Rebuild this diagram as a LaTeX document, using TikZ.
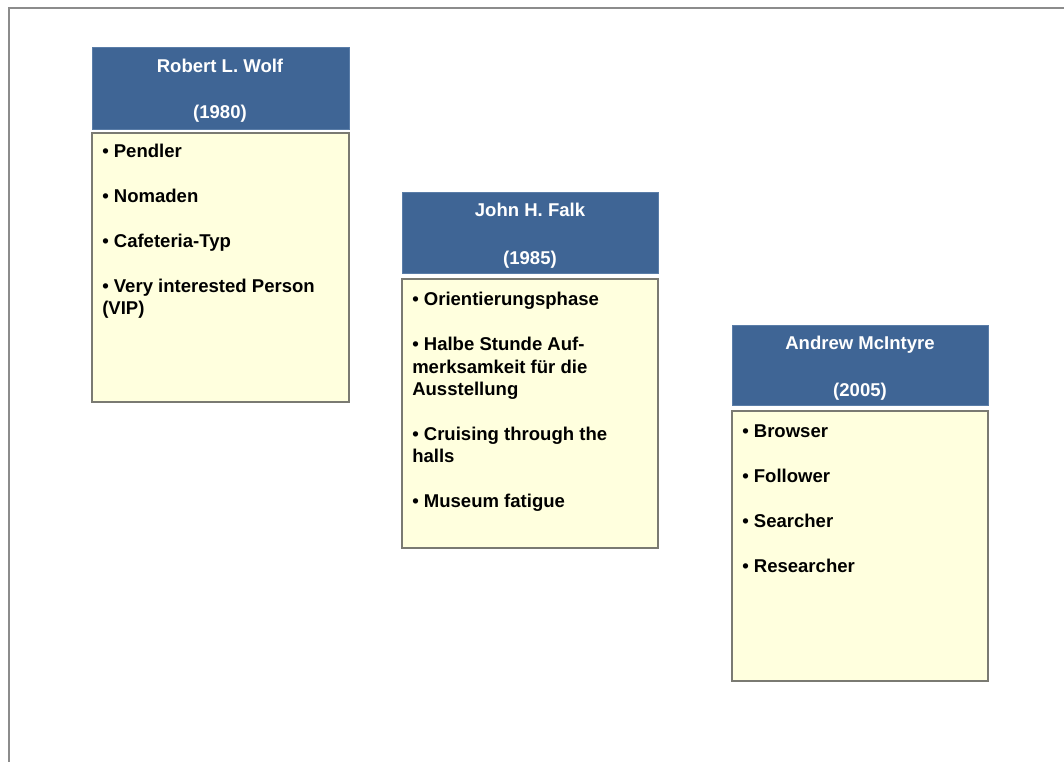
\documentclass[tikz,border=0pt]{standalone}
\usepackage{fontspec}
\setmainfont{Liberation Sans}
\definecolor{headblue}{HTML}{3F6595}
\definecolor{headedge}{HTML}{5A7DA8}
\definecolor{notepaper}{HTML}{FFFFDE}
\definecolor{noteedge}{HTML}{7A7A72}
\definecolor{frameline}{HTML}{8C8C8C}
\begin{document}
\begin{tikzpicture}[x=0.75pt,y=-0.75pt,
  head/.style={fill=headblue, draw=headedge, line width=0.6pt},
  body/.style={fill=notepaper, draw=noteedge, line width=0.9pt},
  htext/.style={text=white, font=\fontsize{13.9}{16}\selectfont\bfseries, anchor=base, inner sep=0pt},
  btext/.style={text=black, font=\fontsize{13.9}{16}\selectfont\bfseries, anchor=base west, inner sep=0pt}]
  % page size
  \useasboundingbox (0,0) rectangle (1064,762);
  % sheet frame (top and left edges)
  \draw[frameline, line width=1.6pt] (9,762) -- (9,8) -- (1064,8);

  % --- Robert L. Wolf ---
  \path[head] (92,47) rectangle (349,129);
  \path[body] (92,133) rectangle (349,402);
  \node[htext] (wolfname) at (220,73) {Robert L. Wolf};
  \node[htext] (wolfyear) at (220,119) {(1980)};
  \node[btext] (wolf1) at (102,158) {• Pendler};
  \node[btext] (wolf2) at (102,203) {• Nomaden};
  \node[btext] (wolf3) at (102,248) {• Cafeteria-Typ};
  \node[btext] (wolf4) at (102,293) {• Very interested Person};
  \node[btext] (wolf5) at (102,315) {(VIP)};

  % --- John H. Falk ---
  \path[head] (402,192) rectangle (658,273);
  \path[body] (402,279) rectangle (658,548);
  \node[htext] (falkname) at (530,217) {John H. Falk};
  \node[htext] (falkyear) at (530,265) {(1985)};
  \node[btext] (falk1) at (412,306) {• Orientierungsphase};
  \node[btext] (falk2) at (412,351) {• Halbe Stunde Auf-};
  \node[btext] (falk3) at (412,374) {merksamkeit für die};
  \node[btext] (falk4) at (412,396) {Ausstellung};
  \node[btext] (falk5) at (412,441) {• Cruising through the};
  \node[btext] (falk6) at (412,463) {halls};
  \node[btext] (falk7) at (412,508) {• Museum fatigue};

  % --- Andrew McIntyre ---
  \path[head] (732,325) rectangle (988,405);
  \path[body] (732,411) rectangle (988,681);
  \node[htext] (mcname) at (860,350) {Andrew McIntyre};
  \node[htext] (mcyear) at (860,397) {(2005)};
  \node[btext] (mc1) at (742,438) {• Browser};
  \node[btext] (mc2) at (742,483) {• Follower};
  \node[btext] (mc3) at (742,528) {• Searcher};
  \node[btext] (mc4) at (742,573) {• Researcher};
\end{tikzpicture}
\end{document}
